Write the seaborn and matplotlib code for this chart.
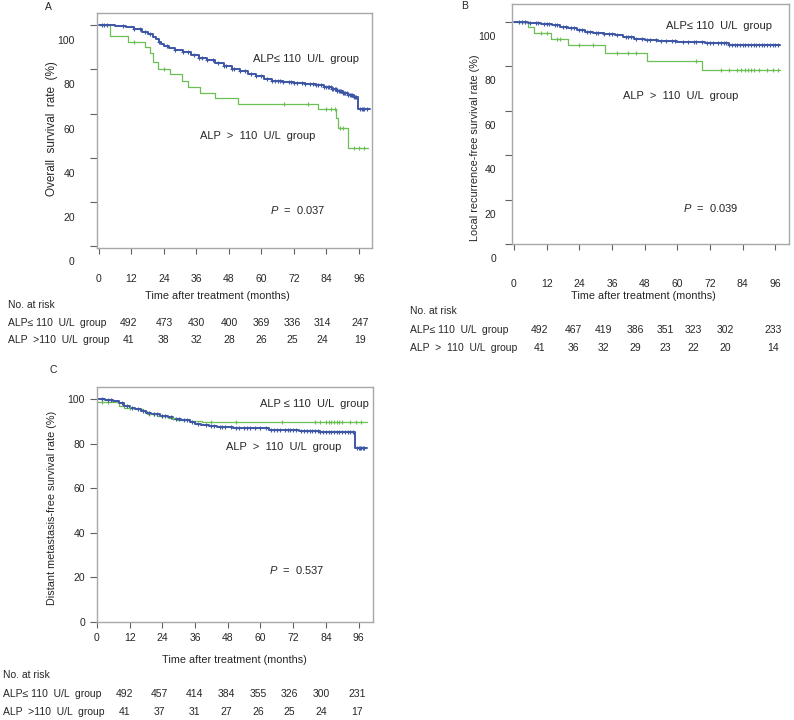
import matplotlib
matplotlib.use("Agg")
import matplotlib.pyplot as plt
import matplotlib.transforms as mtransforms
import numpy as np
import seaborn as sns

sns.set_theme(style="white")
plt.rcParams["font.family"] = ["Liberation Sans", "DejaVu Sans"]
plt.rcParams["mathtext.fontset"] = "custom"
plt.rcParams["mathtext.rm"] = "Liberation Sans"
plt.rcParams["mathtext.it"] = "Liberation Sans:italic"

BLUE = "#3d56a6"
GREEN = "#6cbf55"
FS = 7.5

# ---- Panel A: overall survival ----
a_low_t = [0, 6, 10, 13, 16, 18, 20, 21, 22, 23, 24, 26, 28, 31, 34, 37, 40, 43, 46, 49, 52,
           55, 58, 61, 64, 68, 72, 76, 80, 83, 86, 88, 90, 92, 94, 95.6, 100]
a_low_s = [100, 99.5, 99, 98, 97, 96, 94.5, 93.5, 92.5, 91.5, 90.5, 89.5, 88.7, 87.7, 86.5,
           85.3, 84, 82.8, 81.5, 80.3, 79, 77.8, 76.8, 75.5, 74.8, 74.3, 73.8, 73.3, 72.7, 72,
           71, 70.2, 69.3, 68.5, 67.5, 62, 62]
a_low_cens = [1, 2, 3, 9, 13, 15, 17, 19, 22, 25, 28, 31, 33, 35, 37, 38, 40, 42, 44, 46, 47,
              49, 50, 52, 54, 56, 58, 60, 62, 64, 65, 66, 67, 68, 70, 71, 72, 73, 75, 76, 78,
              79, 80, 81, 82, 83, 84, 84.5, 85, 85.5, 86, 86.5, 87, 87.5, 88, 88.5, 89, 89.5,
              90, 90.5, 91, 91.5, 92, 92.5, 93, 93.5, 94, 94.5, 95, 96.5, 97, 97.5, 98, 99]
a_high_t = [0, 4, 10.6, 17, 18.8, 20, 21.9, 26.2, 30.5, 32.9, 37.2, 42.8, 51.4, 80.9, 87.6,
            88.3, 91.9, 99.3]
a_high_s = [100, 95, 92.5, 90.2, 87.2, 83.5, 80, 77.7, 74.7, 71.9, 69.5, 66.9, 64.4, 62, 57.9,
            53.4, 44.4, 44.4]
a_high_cens = [13, 24, 68.5, 77, 84, 85.5, 87, 89, 90, 94, 96, 98]
a_risk_low = [492, 473, 430, 400, 369, 336, 314, 247]
a_risk_high = [41, 38, 32, 28, 26, 25, 24, 19]

# ---- Panel B: local recurrence-free survival ----
b_low_t = [0, 5, 10, 14, 17, 20, 23, 26, 29, 33, 37, 40, 44, 48, 53, 60, 70, 79, 97.8]
b_low_s = [100, 99.6, 99.2, 98.6, 97.8, 97, 96.2, 95.6, 95, 94.5, 94, 93, 92.2, 91.6, 91.2,
           90.8, 90.5, 89.5, 89.5]
b_low_cens = [2, 3, 4, 6, 8, 9, 11, 12, 13, 15, 16, 18, 19, 21, 22, 24, 25, 27, 28, 30, 31,
              33, 35, 36, 38, 41, 42, 43, 45, 47, 49, 50, 52, 54, 56, 58, 59, 62, 64, 66, 67,
              69, 71, 72, 73, 75, 76, 77, 78, 79, 80, 81, 82, 83, 84, 85, 86, 87, 88, 89, 90,
              91, 92, 93, 94, 95, 96, 97]
b_high_t = [0, 5.2, 7.4, 13.7, 19.9, 33.4, 48.7, 69, 97.8]
b_high_s = [100, 97.7, 95, 92.3, 89.5, 86, 82.3, 78.5, 78.5]
b_high_cens = [3, 4, 10, 12, 16, 17, 24, 29, 38, 42, 45, 67, 76, 79, 82, 83.5, 85, 86, 87,
               88, 90, 93, 95, 97]
b_risk_low = [492, 467, 419, 386, 351, 323, 302, 233]
b_risk_high = [41, 36, 32, 29, 23, 22, 20, 14]

# ---- Panel C: distant metastasis-free survival ----
c_low_t = [0, 3, 6, 8, 10, 12, 14, 16, 18, 20, 23, 26, 28, 31, 34, 36, 38, 41, 44, 50, 57,
           63, 68, 74, 82, 88, 94.7, 99]
c_low_s = [100, 99.5, 99, 98, 97, 96.2, 95.5, 94.8, 93.8, 93.2, 92.5, 91.8, 91, 90.4, 89.8,
           89, 88.4, 87.8, 87.4, 87.2, 86.9, 86.3, 85.9, 85.6, 85.3, 85, 78, 78]
c_low_cens = [2, 4, 5, 9, 11, 13, 15, 17, 19, 21, 22, 24, 25, 27, 29, 30, 32, 33, 35, 37,
              40, 42, 43, 45, 46, 47, 49, 51, 52, 54, 55, 56, 58, 60, 62, 64, 65, 66, 67, 69,
              70, 71, 72, 73, 75, 76, 77, 78, 79, 80, 81, 82, 83, 84, 85, 86, 87, 88, 89, 90,
              91, 92, 93, 94, 95.5, 96, 96.5, 97, 97.5, 98]
c_high_t = [0, 8, 10, 14, 17, 18.5, 22, 26, 29, 34, 38.5, 99]
c_high_s = [98.5, 97, 96, 95.5, 94.5, 93.2, 92.5, 91.5, 90.5, 90, 89.5, 89.5]
c_high_cens = [2, 4, 12, 19, 21, 24, 28, 42, 51, 68, 80, 82, 84, 85, 86, 87, 88, 89, 90, 93,
               95, 97]
c_risk_low = [492, 457, 414, 384, 355, 326, 300, 231]
c_risk_high = [41, 37, 31, 27, 26, 25, 24, 17]

x_ticks = [0, 12, 24, 36, 48, 60, 72, 84, 96]
y_ticks = [0, 20, 40, 60, 80, 100]

W, H = 794, 720


def step_at(t, s, c):
    idx = np.searchsorted(np.asarray(t), np.asarray(c), side="right") - 1
    return np.asarray(s)[idx]


def draw_curve(ax, t, s, cens, color, lw):
    sns.lineplot(x=t, y=s, ax=ax, color=color, lw=lw, drawstyle="steps-post",
                 sort=False, estimator=None)
    sns.scatterplot(x=cens, y=step_at(t, s, cens), ax=ax, color=color, marker="+",
                    s=9, linewidth=0.8, zorder=3)


def panel(rect, data, xlim, ylim, ylab, yoff, xpad, ypad, texts, ylab_xy, xlab_xy, ylab_fs):
    ax = fig.add_axes(rect)
    (lt, ls, lc), (ht, hs, hc) = data
    draw_curve(ax, ht, hs, hc, GREEN, 0.9)
    draw_curve(ax, lt, ls, lc, BLUE, 1.4)
    ax.set_xlim(*xlim)
    ax.set_ylim(*ylim)
    ax.set_xticks(x_ticks)
    ax.set_yticks(y_ticks)
    for sp in ax.spines.values():
        sp.set_color("#a8a8a8")
        sp.set_linewidth(1.0)
    ax.tick_params(axis="x", direction="out", length=4, width=0.8, color="#606060",
                   labelsize=FS, pad=xpad, bottom=True)
    ax.tick_params(axis="y", direction="out", length=5, width=0.8, color="#606060",
                   labelsize=FS, pad=ypad, left=True)
    if yoff:
        off = mtransforms.ScaledTranslation(0, -yoff / 100, fig.dpi_scale_trans)
        for lab in ax.get_yticklabels():
            lab.set_transform(lab.get_transform() + off)
    ax.set_ylabel(ylab, fontsize=ylab_fs, va="center")
    ax.yaxis.set_label_coords(*ylab_xy)
    ax.set_xlabel("Time after treatment (months)", fontsize=FS + 0.3, va="center")
    ax.xaxis.set_label_coords(*xlab_xy)
    for x, y, txt in texts:
        ax.text(x, y, txt, fontsize=FS + 0.5, ha="left", va="center")
    return ax


def risk_table(ax, x0, ys, labels, rows, xpos):
    fig.text(x0 / W, 1 - ys[0] / H, "No. at risk", fontsize=FS, ha="left", va="center")
    tr = mtransforms.blended_transform_factory(ax.transData, fig.transFigure)
    for y, lab, row in zip(ys[1:], labels, rows):
        fig.text(x0 / W, 1 - y / H, lab, fontsize=FS, ha="left", va="center")
        for x, v in zip(xpos, row):
            ax.text(x, 1 - y / H, str(v), transform=tr, fontsize=FS, ha="center",
                    va="center", clip_on=False)


fig = plt.figure(figsize=(W / 100, H / 100), dpi=100)

axA = panel([97 / W, 1 - 248 / H, 275 / W, 235 / H],
            [(a_low_t, a_low_s, a_low_cens), (a_high_t, a_high_s, a_high_cens)],
            (-0.7, 100.8), (-0.7, 105.4), "Overall  survival  rate  (%)", 15, 15, 11,
            [(57, 84.5, "ALP≤ 110  U/L  group"), (37.2, 49.9, "ALP  >  110  U/L  group"),
             (63, 16.5, r"$P$  =  0.037")],
            (-0.164, 0.51), (0.437, -0.204), FS + 1.0)
risk_table(axA, 8, [305, 323, 340], ["ALP≤ 110  U/L  group", "ALP  >110  U/L  group"],
           [a_risk_low, a_risk_high], [11, 24, 36, 48, 60, 71.5, 82.5, 96.5])

axB = panel([512 / W, 1 - 244 / H, 277 / W, 240 / H],
            [(b_low_t, b_low_s, b_low_cens), (b_high_t, b_high_s, b_high_cens)],
            (-0.7, 101), (0, 108), "Local recurrence-free survival rate (%)", 14, 21, 6.5,
            [(55.9, 98.3, "ALP≤ 110  U/L  group"), (39.9, 66.5, "ALP  >  110  U/L  group"),
             (62, 16.1, r"$P$  =  0.039")],
            (-0.135, 0.40), (0.473, -0.217), FS + 0.3)
risk_table(axB, 410, [311, 330, 348], ["ALP≤ 110  U/L  group", "ALP  >  110  U/L  group"],
           [b_risk_low, b_risk_high], [9.5, 22, 33, 44.5, 55.5, 66, 77.5, 95])

axC = panel([97 / W, 1 - 622 / H, 276 / W, 235 / H],
            [(c_low_t, c_low_s, c_low_cens), (c_high_t, c_high_s, c_high_cens)],
            (0, 101.3), (0, 105.4), "Distant metastasis-free survival rate (%)", 0, 3.6, 3.6,
            [(59.9, 97.8, "ALP ≤ 110  U/L  group"), (47.2, 78.7, "ALP  >  110  U/L  group"),
             (63.3, 23.5, r"$P$  =  0.537")],
            (-0.164, 0.485), (0.496, -0.162), FS + 0.3)
risk_table(axC, 3, [675, 694, 712], ["ALP≤ 110  U/L  group", "ALP  >110  U/L  group"],
           [c_risk_low, c_risk_high], [10, 23, 35.7, 47.3, 59.1, 70.6, 82.2, 95.5])

for x, y, letter in [(48, 7, "A"), (465, 6, "B"), (53, 370, "C")]:
    fig.text(x / W, 1 - y / H, letter, fontsize=FS, ha="center", va="center")

fig.savefig("out.png", dpi=100)
